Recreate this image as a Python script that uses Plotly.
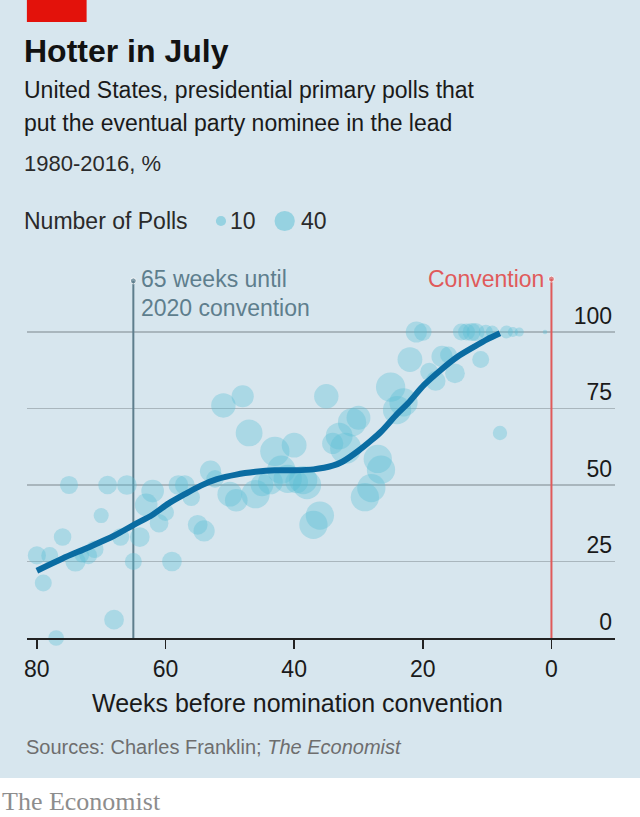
import plotly.graph_objects as go

W, H = 640, 817

# ---------------- data ----------------
bubble_weeks = [80, 78, 79, 77, 76, 75, 74, 73, 72, 71, 70, 69, 68, 67, 66, 65, 64, 63, 62, 61,
                60, 59, 58, 57, 56, 55, 54, 53, 52.3, 51, 50, 49, 48, 47, 46, 45, 43.7, 43, 42, 41,
                40, 39.6, 38.6, 38, 37, 36, 35, 34, 33, 32, 31, 30, 29, 28, 27, 26.5, 25, 24, 23, 22,
                21, 20, 19, 18, 17, 16, 15, 14, 13.2, 12.4, 11.8, 11, 10.2, 9.2, 8, 7, 6, 5, 1]
bubble_pct = [27, 27, 18, 0, 33, 50, 25, 27, 27, 29, 40, 50, 6, 33, 50, 25, 33, 43.5, 48, 37.5,
              41, 25, 50, 50, 46, 37, 35, 54.5, 52, 76, 47, 45, 79, 67, 47, 50, 51, 61, 55, 52,
              63, 51, 51.6, 50, 37, 40, 79, 63.6, 66, 62, 70.5, 72, 46, 49, 58.5, 55, 82, 74.5, 77, 91,
              100, 100, 87, 84, 92, 92.5, 86.5, 100, 100, 100, 100, 91, 100, 100, 67, 100, 100, 100, 100]
bubble_polls = [16, 14, 14, 12, 15, 16, 20, 10, 15, 15, 11, 17, 19, 15, 19, 14, 19, 25, 25, 17,
                14, 19, 19, 19, 15, 19, 22, 22, 15, 29, 30, 25, 24, 35, 39, 25, 30, 42, 39, 39,
                30, 25, 39, 39, 39, 39, 29, 22, 35, 47, 39, 28, 39, 39, 39, 39, 42, 39, 39, 30,
                22, 15, 16, 19, 22, 14, 19, 14, 14, 16, 16, 14, 10, 8, 10, 8, 5, 4, 1]

trend_weeks = [80, 76, 72, 68, 65, 62, 59.5, 57, 54.5, 52, 49, 46, 43, 40, 37, 34, 32.5, 30, 28,
               26.5, 24, 22.3, 19.8, 17.2, 14.6, 12, 10, 8]
trend_pct = [22, 26, 29.6, 33.4, 36.9, 40.3, 44, 47.0, 49.8, 51.9, 53.4, 54.3, 54.8, 54.8, 55.1,
             56.3, 57.6, 61.2, 64.6, 67.4, 73.2, 76.7, 82.7, 87.6, 91.9, 95.2, 97.6, 99.6]

x_ticks = [80, 60, 40, 20, 0]
y_ticks = [0, 25, 50, 75, 100]
legend_polls = [10, 40]
legend_labels = ["10", "40"]
marker_week_2020 = 65
convention_week = 0

# ---------------- style ----------------
FONT = "Liberation Sans, Arial, sans-serif"
BG = "#d7e6ee"
BUBBLE = "rgba(85,190,212,0.5)"
LINE_BLUE = "#0a6ca2"
SLATE = "#5e7e8d"
RED = "#e05a5a"
SIZEREF = 1 / 10.24  # diameter = 3.2*sqrt(polls)


def px(x):
    return x / W


def py(y):
    return 1 - y / H


fig = go.Figure()

# 65 weeks line
fig.add_trace(go.Scatter(
    x=[marker_week_2020, marker_week_2020], y=[0, 116.7], mode="lines+markers",
    line=dict(color=SLATE, width=2), marker=dict(size=[0, 6], color=SLATE),
    hoverinfo="skip", showlegend=False, cliponaxis=False))

# bubbles
fig.add_trace(go.Scatter(
    x=bubble_weeks, y=bubble_pct, mode="markers",
    marker=dict(size=bubble_polls, sizemode="area", sizeref=SIZEREF, color=BUBBLE,
                line=dict(width=0)),
    showlegend=False, cliponaxis=False))

# trend
fig.add_trace(go.Scatter(
    x=trend_weeks, y=trend_pct, mode="lines",
    line=dict(color=LINE_BLUE, width=6, shape="spline", smoothing=0.8),
    showlegend=False, cliponaxis=False))

# convention line
fig.add_trace(go.Scatter(
    x=[convention_week, convention_week], y=[0, 117.3], mode="lines+markers",
    line=dict(color=RED, width=2), marker=dict(size=[0, 6], color=RED),
    hoverinfo="skip", showlegend=False, cliponaxis=False))

shapes = [
    dict(type="rect", xref="paper", yref="paper", x0=-0.01, x1=1.01, y0=py(778), y1=1.01,
         fillcolor=BG, line=dict(width=0), layer="below"),
    dict(type="rect", xref="paper", yref="paper", x0=px(24), x1=px(84), y0=py(22), y1=py(0),
         fillcolor="#e3120b", line=dict(width=0), layer="below"),
]
# legend circles
legend_x = [219, 283]
for n, lx in zip(legend_polls, legend_x):
    r = (n / SIZEREF) ** 0.5 / 2
    shapes.append(dict(type="circle", xref="paper", yref="paper", xsizemode="pixel",
                       ysizemode="pixel", xanchor=px(lx), yanchor=py(221),
                       x0=-r, x1=r, y0=-r, y1=r, fillcolor=BUBBLE, line=dict(width=0)))


def ann(text, x, y, size, color="#1a1a1a", xanchor="left", family=FONT, weight=None):
    f = dict(family=family, size=size, color=color)
    if weight:
        f["weight"] = weight
    return dict(text=text, x=px(x), y=py(y), xref="paper", yref="paper", xanchor=xanchor,
                yanchor="middle", showarrow=False, font=f, borderpad=0)


annotations = [
    ann("Hotter in July", 20, 51, 32, "#121212", weight=700),
    ann("United States, presidential primary polls that", 20, 90, 23),
    ann("put the eventual party nominee in the lead", 20, 123, 23),
    ann("1980-2016, %", 20, 163, 22, "#2a2a2a"),
    ann("Number of Polls", 20, 221, 23, "#2a2a2a"),
    ann(legend_labels[0], 227, 221, 23, "#2a2a2a"),
    ann(legend_labels[1], 298, 221, 23, "#2a2a2a"),
    ann("65 weeks until", 138, 279, 23, SLATE),
    ann("2020 convention", 138, 307.5, 23, SLATE),
    ann("Convention", 545, 279, 23, RED, xanchor="right"),
    ann("Weeks before nomination convention", 296, 703, 25, "#1a1a1a", xanchor="center"),
    ann("Sources: Charles Franklin; <i>The Economist</i>", 22, 746.5, 20, "#6e6e6e"),
    ann("The Economist", -2, 801, 26, "#8d8d8d", family="Liberation Serif, Times New Roman, serif"),
]

fig.update_layout(
    width=W, height=H, autosize=False,
    margin=dict(l=0, r=0, t=0, b=0, pad=0),
    paper_bgcolor="white", plot_bgcolor="rgba(0,0,0,0)",
    shapes=shapes, annotations=annotations,
    xaxis=dict(domain=[px(24), px(615)], range=[81.55, -9.90], tickvals=x_ticks,
               showgrid=False, zeroline=False, showline=True, linecolor="#222222",
               linewidth=2, ticks="outside", ticklen=9, tickwidth=1.5, tickcolor="#222222",
               tickfont=dict(family=FONT, size=23, color="#1a1a1a"), ticklabelstandoff=0),
    yaxis=dict(domain=[py(638), py(270)], range=[0, 120.26], tickvals=y_ticks,
               side="right", ticklabelposition="inside top", showgrid=True,
               gridcolor="#a9b6bd", gridwidth=1.5, zeroline=False, showline=False, ticks="",
               tickfont=dict(family=FONT, size=23, color="#1a1a1a")),
    showlegend=False,
)

fig.write_html(
    "out.html",
    config={"displayModeBar": False, "staticPlot": True},
    post_script="document.documentElement.style.margin='0';document.body.style.margin='0';"
                "document.body.style.padding='0';",
)
